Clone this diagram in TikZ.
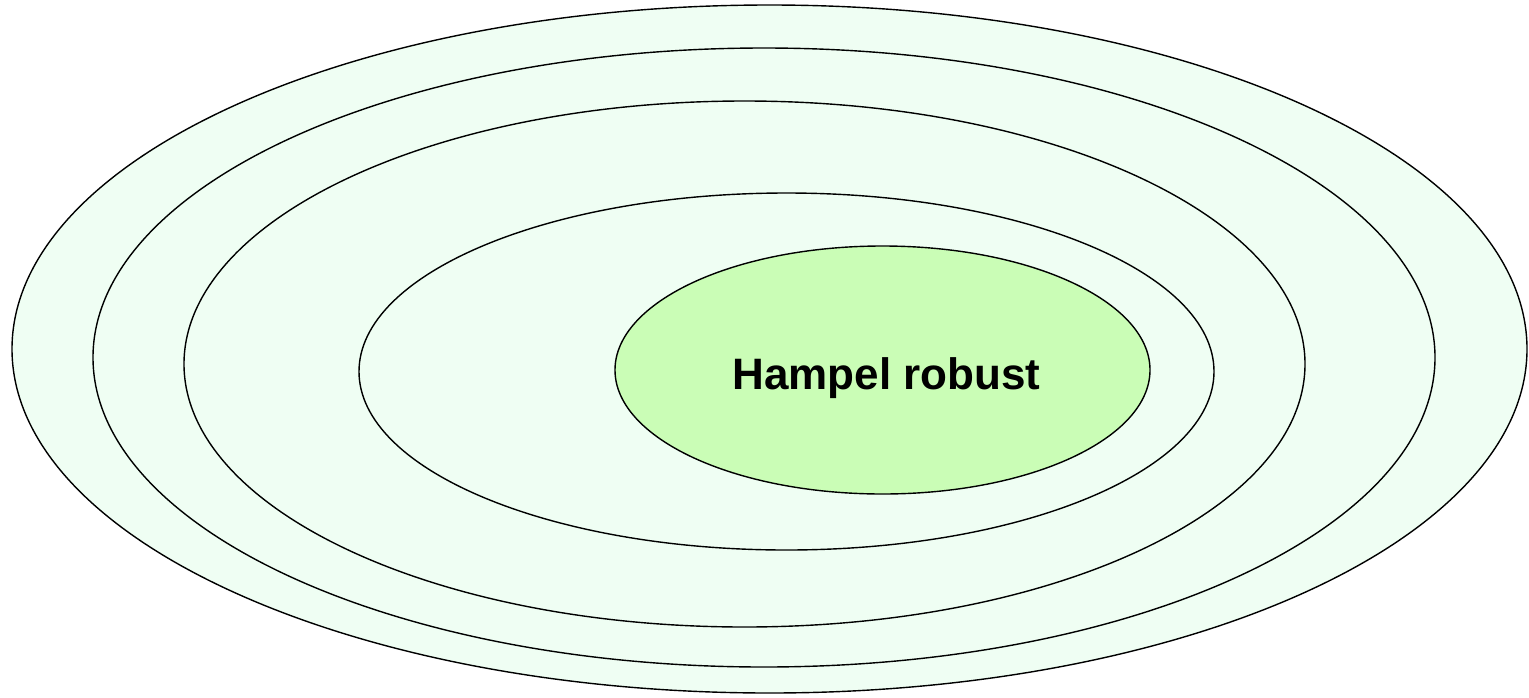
\documentclass[tikz,border=0pt]{standalone}
\usepackage{fontspec}
\setmainfont{Liberation Sans}
\usetikzlibrary{shapes.geometric}
\definecolor{palegreen}{HTML}{EFFEF3}
\definecolor{coregreen}{HTML}{CAFDB6}
\tikzset{
  ring/.style={draw=black, line width=1.4pt, fill=palegreen, ellipse, inner sep=0pt},
  core/.style={draw=black, line width=1.4pt, fill=coregreen, ellipse, inner sep=0pt}
}
\begin{document}
\begin{tikzpicture}[x=1pt,y=-1pt]
\useasboundingbox (0,0) rectangle (1529,697);
\node[ring, minimum width=1515pt, minimum height=688pt] (r1) at (769.5,349) {};
\node[ring, minimum width=1342pt, minimum height=619pt] (r2) at (764,357.5) {};
\node[ring, minimum width=1121pt, minimum height=526pt] (r3) at (744.5,364) {};
\node[ring, minimum width=855pt, minimum height=357pt] (r4) at (786.5,371.5) {};
\node[core, minimum width=535pt, minimum height=248pt] (r5) at (882.5,370) {};
\node[font=\fontsize{44}{50}\selectfont\bfseries, inner sep=0pt, anchor=base] (t) at (886.5,389) {Hampel robust};
\end{tikzpicture}
\end{document}
